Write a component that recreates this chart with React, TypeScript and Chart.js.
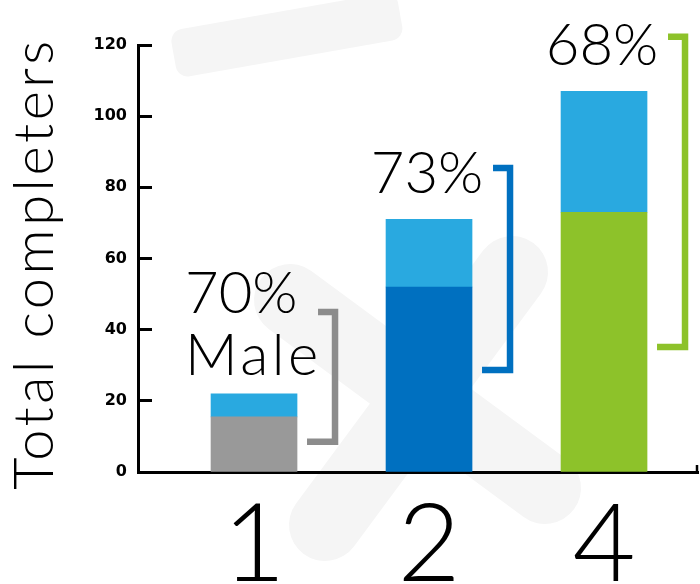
import React, { useEffect, useRef } from 'react';
import { Chart, registerables } from 'chart.js';

Chart.register(...registerables);

// ---- data ----
const categories = ['1', '2', '4'];
const maleValues = [15.5, 52, 73];
const femaleValues = [6.5, 19, 34];
const malePctLabels = ['70%', '73%', '68%'];
const maleWord = 'Male';
const yTitle = 'Total completers';
const bracketTop = [45, 85.4, 122.3];
const bracketBottom = [8.5, 28.7, 35.1];
const pctLabelBaseline = [44.6, 78.3, 114.3];
const maleWordBaseline = 27.3;
const yTickValues = [0, 20, 40, 60, 80, 100, 120];

const maleColors = ['#999999', '#0070C0', '#8DC22A'];
const bracketColors = ['#8C8C8C', '#0070C0', '#8DC22A'];
const femaleColor = '#29A9E0';
const thinFont = 'Lato, "Open Sans", "DejaVu Sans", sans-serif';

const overlayPlugin = {
  id: 'overlay',
  beforeDraw(chart: any) {
    const ctx = chart.ctx;
    ctx.save();
    ctx.fillStyle = '#f5f5f5';
    ctx.strokeStyle = '#f5f5f5';
    // faint watermark shapes
    ctx.save();
    ctx.translate(280, 36);
    ctx.rotate(-0.175);
    ctx.beginPath();
    (ctx as any).roundRect(-108, -24, 230, 48, 12);
    ctx.fill();
    ctx.restore();
    ctx.lineCap = 'round';
    ctx.lineWidth = 72;
    ctx.beginPath();
    ctx.moveTo(512, 272);
    ctx.lineTo(325, 525);
    ctx.stroke();
    ctx.beginPath();
    ctx.moveTo(290, 300);
    ctx.lineTo(545, 488);
    ctx.stroke();
    ctx.restore();
  },
  afterDatasetsDraw(chart: any) {
    const ctx = chart.ctx;
    const xs = chart.scales.x;
    const ys = chart.scales.y;
    const area = chart.chartArea;
    ctx.save();
    categories.forEach((_, i) => {
      const c = xs.getPixelForValue(i);
      const yt = ys.getPixelForValue(bracketTop[i]);
      const yb = ys.getPixelForValue(bracketBottom[i]);
      ctx.strokeStyle = bracketColors[i];
      ctx.lineWidth = 6.5;
      ctx.lineJoin = 'miter';
      ctx.lineCap = 'butt';
      ctx.beginPath();
      ctx.moveTo(c + 64, yt);
      ctx.lineTo(c + 81, yt);
      ctx.lineTo(c + 81, yb);
      ctx.lineTo(c + 53, yb);
      ctx.stroke();

      ctx.fillStyle = '#000';
      ctx.font = `300 58px ${thinFont}`;
      ctx.textBaseline = 'alphabetic';
      if (i === 0) {
        ctx.textAlign = 'left';
        ctx.fillText(malePctLabels[i], c - 69, ys.getPixelForValue(pctLabelBaseline[i]));
        ctx.save();
        (ctx as any).letterSpacing = '3.5px';
        ctx.fillText(maleWord, c - 69, ys.getPixelForValue(maleWordBaseline));
        ctx.restore();
      } else {
        ctx.textAlign = 'center';
        ctx.fillText(malePctLabels[i], c - 2, ys.getPixelForValue(pctLabelBaseline[i]));
      }
    });

    // y axis title
    ctx.save();
    ctx.translate(53, (area.top + area.bottom) / 2 + 5);
    ctx.rotate(-Math.PI / 2);
    ctx.fillStyle = '#000';
    ctx.font = `300 56px ${thinFont}`;
    (ctx as any).letterSpacing = '3.5px';
    ctx.textAlign = 'center';
    ctx.textBaseline = 'alphabetic';
    ctx.fillText(yTitle, 0, 0);
    ctx.restore();

    // small end tick on x axis
    ctx.strokeStyle = '#000';
    ctx.lineWidth = 2.5;
    ctx.beginPath();
    ctx.moveTo(area.right - 1, area.bottom);
    ctx.lineTo(area.right - 1, area.bottom - 7);
    ctx.stroke();
    ctx.restore();
  },
};

export default function App() {
  const ref = useRef<HTMLCanvasElement | null>(null);

  useEffect(() => {
    document.body.style.margin = '0';
    const canvas = ref.current;
    if (!canvas) return;
    const chart = new Chart(canvas, {
      type: 'bar',
      data: {
        datasets: [
          {
            label: 'Male',
            data: maleValues.map((v, i) => ({ x: i, y: v })),
            backgroundColor: maleColors,
            borderWidth: 0,
            barThickness: 86,
          },
          {
            label: 'Female',
            data: femaleValues.map((v, i) => ({ x: i, y: v })),
            backgroundColor: femaleColor,
            borderWidth: 0,
            barThickness: 86,
          },
        ],
      },
      options: {
        responsive: false,
        animation: false,
        devicePixelRatio: 1,
        layout: { padding: { top: 45, right: 2, left: 0, bottom: 0 } },
        plugins: {
          legend: { display: false },
          tooltip: { enabled: false },
          title: { display: false },
        },
        scales: {
          x: {
            type: 'linear',
            stacked: true,
            offset: false,
            min: -0.663,
            max: 2.537,
            z: 1,
            afterBuildTicks: (axis: any) => {
              axis.ticks = categories.map((_, i) => ({ value: i }));
            },
            afterFit: (scale: any) => {
              scale.height = 112;
            },
            grid: { display: false, drawTicks: false, drawOnChartArea: false },
            border: { display: true, color: '#000', width: 3 },
            ticks: {
              padding: 8,
              color: '#000',
              font: { family: thinFont, size: 109, weight: '300' as any },
              callback: (v: any) => categories[Math.round(Number(v))] ?? '',
              maxRotation: 0,
              autoSkip: false,
            },
          },
          y: {
            stacked: true,
            min: 0,
            max: 120,
            z: 1,
            afterBuildTicks: (axis: any) => {
              axis.ticks = yTickValues.map((v) => ({ value: v }));
            },
            afterFit: (scale: any) => {
              scale.width = 138;
            },
            grid: {
              drawOnChartArea: false,
              drawTicks: true,
              tickLength: -14,
              tickWidth: 3,
              tickColor: '#000',
            },
            border: { display: true, color: '#000', width: 3 },
            ticks: {
              padding: 25,
              color: '#000',
              font: { family: '"DejaVu Sans", sans-serif', size: 16, weight: 'bold' as any },
            },
            title: { display: false },
          },
        },
      },
      plugins: [overlayPlugin],
    } as any);
    return () => chart.destroy();
  }, []);

  return (
    <div style={{ position: 'relative', width: 700, height: 584 }}>
      <canvas ref={ref} width={700} height={584} />
    </div>
  );
}
